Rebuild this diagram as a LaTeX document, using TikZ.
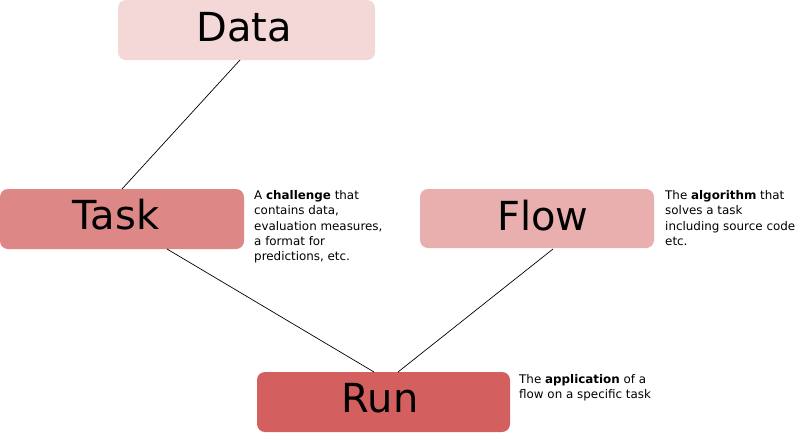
\documentclass[tikz,border=0pt]{standalone}
\usepackage{fontspec}
\setmainfont{DejaVu Sans}
\begin{document}
\begin{tikzpicture}[x=1pt,y=-1pt,
  box/.style={rounded corners=8pt, inner sep=0pt},
  big/.style={font=\fontsize{40}{44}\selectfont, inner sep=0pt},
  note/.style={font=\fontsize{11.9}{15.4}\selectfont, align=left, anchor=north west, inner sep=0pt},
  link/.style={draw=black, line width=0.7pt}]
\useasboundingbox (0,0) rectangle (800,432);
\definecolor{cdata}{HTML}{F4D7D7}
\definecolor{ctask}{HTML}{DE8787}
\definecolor{cflow}{HTML}{E9AFAF}
\definecolor{crun}{HTML}{D35F5F}
\fill[cdata, rounded corners=8pt] (118,0) rectangle (375,60);
\fill[ctask, rounded corners=8pt] (0,189) rectangle (244,249);
\fill[cflow, rounded corners=8pt] (420,189) rectangle (654,248);
\fill[crun, rounded corners=8pt] (257,372) rectangle (510,432);
\node[big] (data) at (244,27) {Data};
\node[big] (task) at (116,215) {Task};
\node[big] (flow) at (543,216) {Flow};
\node[big] (run) at (380,398) {Run};
\coordinate (d1) at (240,60);
\coordinate (t1) at (122,189);
\coordinate (t2) at (167,249);
\coordinate (r1) at (374,372);
\coordinate (f1) at (553,249);
\coordinate (r2) at (398,372);
\draw[link] (d1) -- (t1);
\draw[link] (t2) -- (r1);
\draw[link] (f1) -- (r2);
\node[note] (tasknote) at (254,190) {A \textbf{challenge} that\\contains data,\\evaluation measures,\\a format for\\predictions, etc.};
\node[note] (flownote) at (665,190) {The \textbf{algorithm} that\\solves a task\\including source code\\etc.};
\node[note] (runnote) at (519,374) {The \textbf{application} of a\\flow on a specific task};
\end{tikzpicture}
\end{document}
